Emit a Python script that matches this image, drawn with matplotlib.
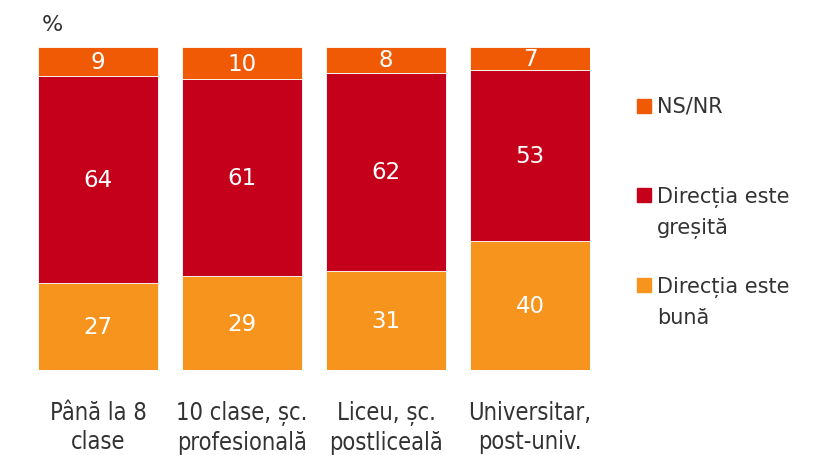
import matplotlib.pyplot as plt
from matplotlib.patches import Rectangle

categories = ["Până la 8\nclase", "10 clase, șc.\nprofesională",
              "Liceu, șc.\npostliceală", "Universitar,\npost-univ."]
buna = [27, 29, 31, 40]
gresita = [64, 61, 62, 53]
nsnr = [9, 10, 8, 7]

series = [buna, gresita, nsnr]
labels = ["Direcția este\nbună", "Direcția este\ngreșită", "NS/NR"]
colors = ["#F7941D", "#C5001A", "#F05A05"]

fig = plt.figure(figsize=(8.13, 4.56), dpi=100)
ax = fig.add_axes([38 / 813, 1 - 371 / 456, (590 - 38) / 813, (371 - 48) / 456])

x = list(range(len(categories)))
# rounded values don't always add to 100, stack them as shares so bars are full
totals = [sum(t) for t in zip(*series)]
bottom = [0] * len(categories)
for vals, col in zip(series, colors):
    h = [100 * v / t for v, t in zip(vals, totals)]
    ax.bar(x, h, width=120 / 144, bottom=bottom, color=col,
           edgecolor="white", linewidth=0.6)
    for xi, b, hv, v in zip(x, bottom, h, vals):
        ax.text(xi, b + hv / 2, str(v), ha="center", va="center",
                color="white", fontsize=16.5)
    bottom = [b + hv for b, hv in zip(bottom, h)]

ax.set_xlim(-0.5 + 12 / 144, len(categories) - 0.5 - 12 / 144)
ax.set_ylim(0, 100)
ax.axis("off")

for xi, cat in zip(x, categories):
    ax.text(xi, -0.092, cat, transform=ax.get_xaxis_transform(),
            ha="center", va="top", fontsize=17, color="#333333",
            family="DejaVu Sans", fontstretch="condensed", linespacing=1.3)

fig.text(42 / 813, 1 - 25 / 456, "%", fontsize=16, color="#333333",
         va="center", ha="left")

# legend, drawn by hand
leg_y = [286, 196, 107]
for lab, col, ly in zip(labels, colors, leg_y):
    fig.patches.append(Rectangle((637 / 813, 1 - (ly + 7) / 456), 14 / 813, 14 / 456,
                                 transform=fig.transFigure, color=col))
    if "\n" in lab:
        fig.text(657 / 813, 1 - (ly - 9) / 456, lab, fontsize=15, color="#333333",
                 va="top", ha="left", linespacing=1.62)
    else:
        fig.text(657 / 813, 1 - ly / 456, lab, fontsize=15, color="#333333",
                 va="center", ha="left")

fig.savefig("out.png", dpi=100)
